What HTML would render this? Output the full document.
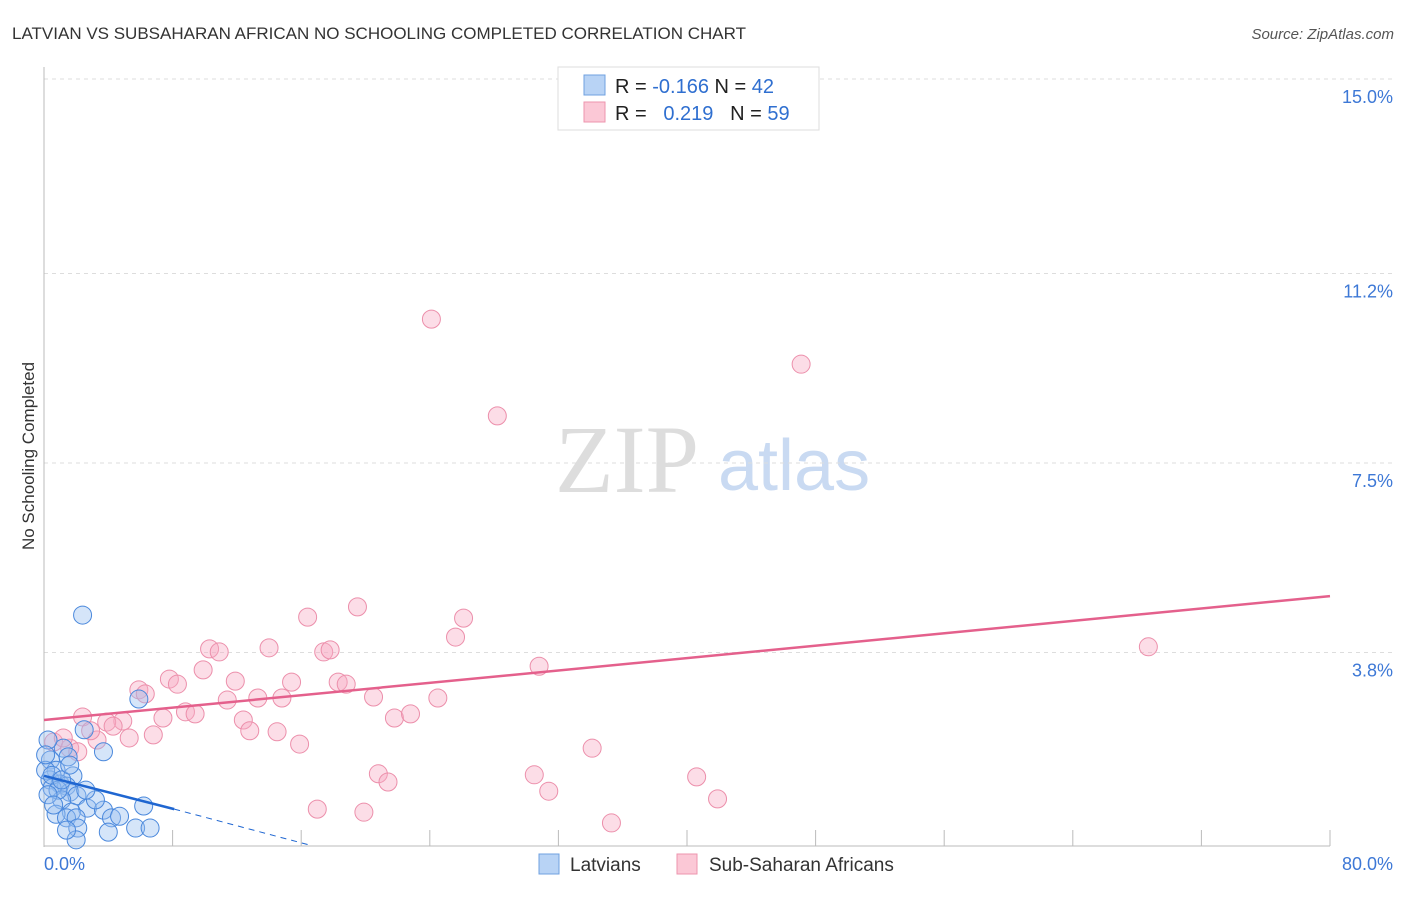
<!DOCTYPE html>
<html><head><meta charset="utf-8"><style>
body{margin:0;background:#fff;font-family:"Liberation Sans",sans-serif;}
</style></head><body>
<svg id="c" width="1406" height="892" xmlns="http://www.w3.org/2000/svg" style="font-family:'Liberation Sans',sans-serif">
<text x="12" y="39" font-size="17" fill="#333">LATVIAN VS SUBSAHARAN AFRICAN NO SCHOOLING COMPLETED CORRELATION CHART</text>
<text x="1394" y="39" font-size="15" fill="#555" font-style="italic" text-anchor="end">Source: ZipAtlas.com</text>
<text x="34" y="456" font-size="17" fill="#333" text-anchor="middle" transform="rotate(-90 34 456)">No Schooling Completed</text>
<text x="555" y="492" font-size="96" fill="#ddd" font-family="Liberation Serif">ZIP</text>
<text x="718" y="490" font-size="72" fill="#c9daf2">atlas</text>
<g id="grid"></g><g id="pts"></g><g id="lines"></g>
<g>
<rect x="558" y="67" width="261" height="63" fill="#fff" stroke="#ddd"/>
<rect x="584" y="75" width="21" height="20" fill="#b8d3f5" stroke="#6fa0e0"/>
<rect x="584" y="102" width="21" height="20" fill="#fbc8d6" stroke="#ee94ae"/>
<text x="615" y="93" font-size="20" fill="#222">R = <tspan fill="#2f6fd0">-0.166</tspan>   N = <tspan fill="#2f6fd0">42</tspan></text>
<text x="615" y="120" font-size="20" fill="#222" xml:space="preserve">R =   <tspan fill="#2f6fd0">0.219</tspan>   N = <tspan fill="#2f6fd0">59</tspan></text>
</g>
<g>
<rect x="539" y="854" width="20" height="20" fill="#b8d3f5" stroke="#6fa0e0"/>
<text x="570" y="871" font-size="19" fill="#333">Latvians</text>
<rect x="677" y="854" width="20" height="20" fill="#fbc8d6" stroke="#ee94ae"/>
<text x="709" y="871" font-size="19" fill="#333">Sub-Saharan Africans</text>
</g>
</svg>
<script>
const yTicks=[15.0,11.2,7.5,3.8];
const yTickLabels=["15.0%","11.2%","7.5%","3.8%"];
const xLabels=["0.0%","80.0%"];
const latX=[2.4,5.9,3.7,2.5,1.2,1.5,0.4,0.75,1.8,0.37,1.0,1.4,0.5,1.6,2.05,1.1,2.7,6.2,3.7,1.7,0.75,4.2,4.7,1.4,2.0,2.1,4.0,5.7,6.6,2.0,0.25,0.1,0.5,0.87,3.2,0.25,1.1,0.6,2.6,1.4,0.1,1.6];
const latY=[4.53,2.89,1.86,2.29,1.93,1.76,1.7,1.5,1.39,1.31,1.23,1.19,1.15,1.07,1.0,0.92,0.76,0.8,0.72,0.68,0.64,0.57,0.6,0.57,0.57,0.37,0.29,0.37,0.37,0.14,2.09,1.5,1.4,1.11,0.92,1.02,1.31,0.82,1.11,0.33,1.8,1.6];
const afrX=[24.1,47.1,28.2,19.5,16.4,26.1,25.6,10.3,10.9,14.0,17.4,17.8,68.7,30.8,9.9,7.8,8.3,11.9,15.4,18.3,18.8,5.9,6.3,11.4,13.3,14.8,20.5,24.5,8.8,9.4,7.4,2.4,4.9,3.9,4.3,12.4,21.8,22.8,12.8,14.5,6.8,5.3,3.3,2.9,15.9,34.1,0.6,1.6,2.1,1.2,20.8,30.5,40.6,21.4,31.4,41.9,17.0,19.9,35.3];
const afrY=[10.31,9.43,8.42,4.69,4.49,4.47,4.1,3.87,3.81,3.89,3.81,3.85,3.91,3.53,3.46,3.28,3.18,3.24,3.22,3.22,3.18,3.07,2.99,2.87,2.91,2.91,2.93,2.91,2.64,2.6,2.52,2.54,2.46,2.44,2.36,2.48,2.52,2.6,2.27,2.25,2.19,2.13,2.09,2.27,2.01,1.93,2.05,1.93,1.86,2.13,1.43,1.41,1.37,1.27,1.09,0.94,0.74,0.68,0.47];
const afrLine=[0,2.48,80,4.9];
const latLine=[0,1.39,8.1,0.74];
const latDash=[8.1,0.74,16.5,0.04];
const NS="http://www.w3.org/2000/svg";
const X=v=>44+v/80*1286, Y=v=>847-v/3.75*192;
function mk(p,t,a){const e=document.createElementNS(NS,t);for(const k in a)e.setAttribute(k,a[k]);p.appendChild(e);return e;}
const g=document.getElementById('grid');
yTicks.forEach((t,i)=>{
 const l=mk(g,'line',{x1:44,x2:1392,y1:Y(t),y2:Y(t),stroke:'#ddd','stroke-dasharray':'4,4'});
 
 
 const tx=mk(g,'text',{x:1393,y:Y(t)+24,'font-size':18,fill:'#3d78d6','text-anchor':'end'});
 tx.textContent=yTickLabels[i];
 
 
});
const ax=mk(g,'line',{x1:44,x2:44,y1:67,y2:847,stroke:'#bbb'});


const bx=mk(g,'line',{x1:44,x2:1330,y1:846,y2:846,stroke:'#bbb'});


for(let i=1;i<=10;i++){const t=mk(g,'line',{x1:X(i*8),x2:X(i*8),y1:830,y2:846,stroke:'#bbb'});
 
 }
[[0,'start',44],[80,'end',1393]].forEach((d,i)=>{const t=mk(g,'text',{x:d[2],y:870,'font-size':18,fill:'#3d78d6','text-anchor':d[1]});t.textContent=xLabels[i];
 
 });
const p=document.getElementById('pts');
afrX.forEach((v,i)=>{const c=mk(p,'circle',{cx:X(v),cy:Y(afrY[i]),r:9,fill:'rgba(247,170,195,0.4)',stroke:'#ec8fab','stroke-width':1});
 
 });
latX.forEach((v,i)=>{const c=mk(p,'circle',{cx:X(v),cy:Y(latY[i]),r:9,fill:'rgba(150,190,240,0.4)',stroke:'#4a88dc','stroke-width':1});
 
 });
const L=document.getElementById('lines');
const a=mk(L,'line',{x1:X(afrLine[0]),y1:Y(afrLine[1]),x2:X(afrLine[2]),y2:Y(afrLine[3]),stroke:'#e4608c','stroke-width':2.5});


const b=mk(L,'line',{x1:X(latLine[0]),y1:Y(latLine[1]),x2:X(latLine[2]),y2:Y(latLine[3]),stroke:'#1f66d1','stroke-width':2.5});


const d=mk(L,'line',{x1:X(latDash[0]),y1:Y(latDash[1]),x2:X(latDash[2]),y2:Y(latDash[3]),stroke:'#1f66d1','stroke-width':1,'stroke-dasharray':'6,5'});


</script>
</body></html>
